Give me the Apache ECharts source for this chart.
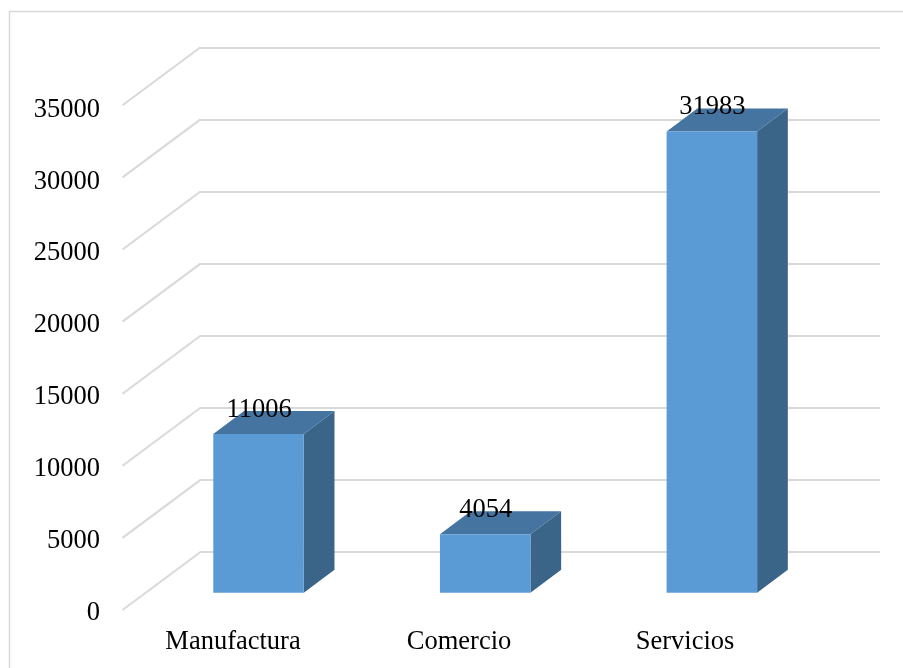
<!DOCTYPE html>
<html>
<head>
<meta charset="utf-8">
<style>html,body{margin:0;padding:0;background:#fff}#c{width:903px;height:668px}</style>
<script src="https://cdn.jsdelivr.net/npm/echarts@6/dist/echarts.min.js"></script>
</head>
<body>
<div id="c"></div>
<script>
const categories = ['Manufactura', 'Comercio', 'Servicios'];
const values = [11006, 4054, 31983];
const yTicks = [0, 5000, 10000, 15000, 20000, 25000, 30000, 35000];

const FONT = '"Liberation Serif", "Times New Roman", serif';
const GRID = '#D9D9D9';
const chart = echarts.init(document.getElementById('c'), null, {renderer: 'canvas'});

// depth of the floor (wall -> front edge) and of a bar
const WALL = {dx: -77.5, dy: 58};
const BAR = {dx: 30.7, dy: -23, w: 90.5, shiftX: -54.8, shiftY: 40.8};

chart.setOption({
  animation: false,
  backgroundColor: '#fff',
  graphic: [{
    type: 'rect', z: -1, silent: true,
    shape: {x: 9.5, y: 11.5, width: 1000, height: 1000},
    style: {fill: 'none', stroke: GRID, lineWidth: 1.5}
  }],
  grid: [
    {left: 200, top: 47.3, width: 680, height: 504.7},
    {left: 120, top: 109.7, width: 678, height: 503.3}
  ],
  xAxis: [
    {gridIndex: 0, type: 'category', data: categories, axisLine: {show: false}, axisTick: {show: false}, axisLabel: {show: false}},
    {gridIndex: 1, type: 'category', data: categories, axisLine: {show: false}, axisTick: {show: false},
     axisLabel: {color: '#000', fontFamily: FONT, fontSize: 26.5, margin: 16}}
  ],
  yAxis: [
    {gridIndex: 0, type: 'value', min: 0, max: 35000, interval: 5000, axisLine: {show: false}, axisTick: {show: false},
     axisLabel: {show: false}, splitLine: {show: true, lineStyle: {color: GRID, width: 2}}},
    {gridIndex: 1, type: 'value', min: 0, max: 35000, interval: 5000, axisLine: {show: false}, axisTick: {show: false},
     axisLabel: {color: '#000', fontFamily: FONT, fontSize: 26.5, margin: 20, formatter: v => String(v)}, splitLine: {show: false}}
  ],
  series: [
    {
      type: 'custom', xAxisIndex: 0, yAxisIndex: 0, silent: true, clip: false, z: 1,
      data: yTicks.map(v => [0, v]),
      encode: {x: 0, y: 1},
      renderItem(params, api) {
        const y = api.coord([0, api.value(1)])[1];
        const x = params.coordSys.x;
        return {type: 'line', shape: {x1: x + 0.5, y1: y, x2: x + WALL.dx, y2: y + WALL.dy},
          style: {stroke: GRID, lineWidth: 2, fill: null}};
      }
    },
    {
      type: 'custom', xAxisIndex: 0, yAxisIndex: 0, silent: true, clip: false, z: 2,
      data: values.map((v, i) => [i, v]),
      encode: {x: 0, y: 1},
      renderItem(params, api) {
        const top = api.coord([api.value(0), api.value(1)]);
        const base = api.coord([api.value(0), 0]);
        const cx = top[0] + BAR.shiftX;
        const l = cx - BAR.w / 2, r = cx + BAR.w / 2;
        const t = top[1] + BAR.shiftY, b = base[1] + BAR.shiftY;
        const dx = BAR.dx, dy = BAR.dy;
        return {type: 'group', children: [
          {type: 'polygon', shape: {points: [[r, t], [r + dx, t + dy], [r + dx, b + dy], [r, b]]}, style: {fill: '#3A6488'}},
          {type: 'polygon', shape: {points: [[l, t], [l + dx, t + dy], [r + dx, t + dy], [r, t]]}, style: {fill: '#44749F'}},
          {type: 'rect', shape: {x: l, y: t, width: BAR.w, height: b - t}, style: {fill: '#5B9BD5'}},
          {type: 'text', z2: 10, style: {x: cx + 0.5, y: t - 24.5, text: String(api.value(1)), fill: '#000',
            font: '26.5px ' + FONT, align: 'center', verticalAlign: 'middle'}}
        ]};
      }
    }
  ]
});
</script>
</body>
</html>
